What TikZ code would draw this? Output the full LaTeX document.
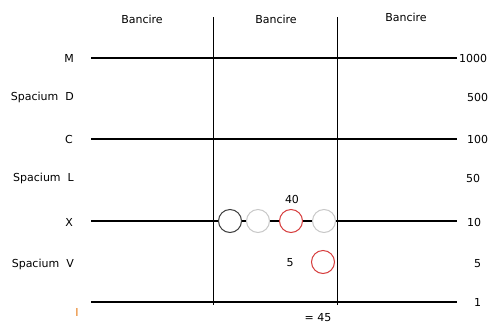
\documentclass[tikz,border=0pt]{standalone}
\usepackage{fontspec}
\setmainfont{DejaVu Sans}
\definecolor{beadred}{RGB}{214,60,60}
\definecolor{beadgray}{RGB}{200,200,200}
\definecolor{beaddark}{RGB}{60,60,60}
\definecolor{labelorange}{RGB}{230,120,20}
\tikzset{
  lbl/.style={font=\fontsize{11}{13}\selectfont, inner sep=0pt},
  bead/.style={circle, draw, fill=white, line width=1pt, minimum size=23pt, inner sep=0pt}
}
\begin{document}
\begin{tikzpicture}[x=1pt, y=-1pt]

            \useasboundingbox (0,0) rectangle (493,325);

            % Lines of the abacus
            \draw[line width=1.6pt] (91,58) -- (457,58);
            \draw[line width=1.6pt] (91,139) -- (457,139);
            \draw[line width=1.6pt] (91,221) -- (457,221);
            \draw[line width=1.6pt] (91,302) -- (457,302);

            % Columns
            \draw[line width=0.8pt] (213,17) -- (213,305);
            \draw[line width=0.8pt] (337,17) -- (337,305);

            % Column heads
            \node[lbl] at (142,19) {Bancire};
            \node[lbl] at (276,19) {Bancire};
            \node[lbl] at (406,17) {Bancire};

            % Left labels
            \node[lbl, anchor=east] at (74,58) {M};
            \node[lbl, anchor=east] at (74,97) {Spacium\ \ D};
            \node[lbl, anchor=east] at (73,139) {C};
            \node[lbl, anchor=east] at (74,178) {Spacium\ \ L};
            \node[lbl, anchor=east] at (73,222) {X};
            \node[lbl, anchor=east] at (74,264) {Spacium\ \ V};
            \node[lbl, text=labelorange] at (77,312) {I};

            % Right labels
            \node[lbl, anchor=west] at (459,58) {1000};
            \node[lbl, anchor=west] at (467,97) {500};
            \node[lbl, anchor=west] at (467,139) {100};
            \node[lbl, anchor=west] at (466,178) {50};
            \node[lbl, anchor=west] at (467,222) {10};
            \node[lbl, anchor=west] at (474,264) {5};
            \node[lbl, anchor=west] at (474,302) {1};

            % Counters on the X line
            \node[bead, draw=beaddark] (x1) at (230,221) {};
            \node[bead, draw=beadgray] (x2) at (258,221) {};
            \node[bead, draw=beadred] (x3) at (291,221) {};
            \node[bead, draw=beadgray] (x4) at (324,221) {};
            \node[lbl] at (292,199) {40};

            % Counter in Spacium V
            \node[bead, draw=beadred] (v1) at (323,262) {};
            \node[lbl] at (290,263) {5};

            % Total
            \node[lbl, anchor=base] at (318,321) {= 45};

        \end{tikzpicture}
\end{document}
